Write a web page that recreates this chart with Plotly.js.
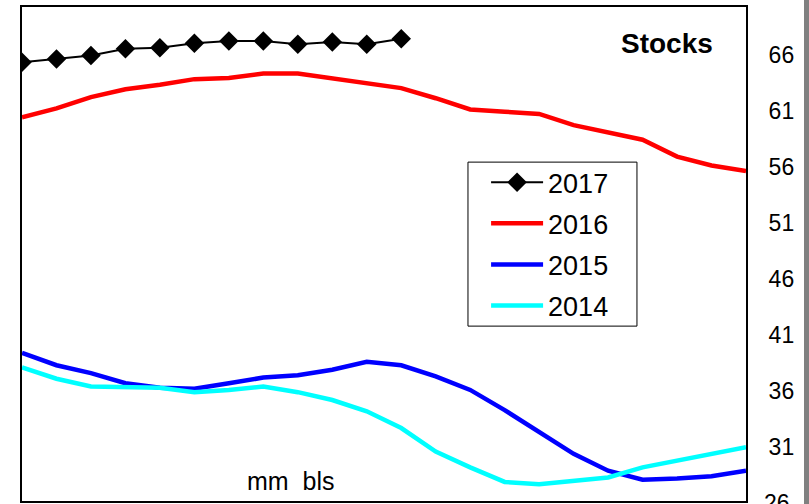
<!DOCTYPE html>
<html><head><meta charset="utf-8">
<script src="https://cdn.plot.ly/plotly-3.0.1.min.js"></script>
<style>html,body{margin:0;padding:0;background:#fff;overflow:hidden}
#bar{position:absolute;left:804px;top:0;width:5px;height:504px;background:#808080}</style>
</head><body>
<div id="chart" style="width:809px;height:504px"></div>
<div id="bar"></div>
<script>
const weeks = [1,2,3,4,5,6,7,8,9,10,11,12,13,14,15,16,17,18,19,20,21,22];
const s2017 = [65.3,65.6,65.9,66.5,66.6,67.0,67.2,67.2,66.9,67.1,66.9,67.4];
const s2016 = [60.4,61.2,62.2,62.9,63.3,63.8,63.9,64.3,64.3,63.9,63.4,63.0,62.1,61.1,60.9,60.7,59.7,59.1,58.4,56.9,56.1,55.6];
const s2015 = [39.4,38.3,37.6,36.7,36.3,36.2,36.7,37.2,37.4,37.9,38.6,38.3,37.3,36.1,34.3,32.3,30.4,28.9,28.1,28.2,28.4,28.9];
const s2014 = [38.1,37.1,36.4,36.4,36.3,35.9,36.1,36.4,35.9,35.2,34.2,32.7,30.6,29.2,27.9,27.7,28.0,28.3,29.2,29.8,30.4,31.0];
const yTicks = [26,31,36,41,46,51,56,61,66];

const FONT = 'Arial, "Liberation Sans", sans-serif';
const traces = [
  {x: weeks.slice(0, s2017.length), y: s2017, name: '2017', legendgroup: 'a', mode: 'lines+markers',
   line: {color: '#000000', width: 2}, marker: {symbol: 'diamond', size: 15, color: '#000000'}},
  {x: weeks, y: s2016, name: '2016', legendgroup: 'b', mode: 'lines', line: {color: '#ff0000', width: 4.5}},
  {x: weeks, y: s2015, name: '2015', legendgroup: 'c', mode: 'lines', line: {color: '#0000ff', width: 4.5}},
  {x: weeks, y: s2014, name: '2014', legendgroup: 'd', mode: 'lines', line: {color: '#00ffff', width: 4.5}}
];

const yMin = 26.2, yMax = 70.23;
const layout = {
  width: 809, height: 504,
  margin: {l: 22, r: 63, t: 7, b: 3},
  paper_bgcolor: '#ffffff', plot_bgcolor: '#ffffff',
  font: {family: FONT, color: '#000'},
  showlegend: true,
  legend: {x: 0.641, y: 0.694, xanchor: 'left', yanchor: 'top',
    borderwidth: 0, bgcolor: 'rgba(0,0,0,0)',
    font: {size: 27, family: FONT}, tracegroupgap: 3, itemwidth: 52},
  xaxis: {range: [1, 22], showgrid: false, zeroline: false, showticklabels: false,
    ticks: '', showline: true, mirror: true, linecolor: '#000', linewidth: 2},
  yaxis: {range: [yMin, yMax], side: 'right', showgrid: false, zeroline: false,
    tickvals: yTicks, ticktext: yTicks.map(String), ticks: '',
    tickfont: {size: 23}, showline: true, mirror: true, linecolor: '#000', linewidth: 2,
    ticklabelstandoff: 16},
  shapes: [
    {type: 'rect', xref: 'paper', yref: 'paper', x0: 0.616, x1: 0.8494, y0: 0.354, y1: 0.686,
     line: {color: '#000', width: 1}, fillcolor: '#fff', layer: 'below'}
  ],
  annotations: [
    {text: '<b>Stocks</b>', xref: 'paper', yref: 'paper', x: 0.891, y: 0.927,
     xanchor: 'center', yanchor: 'middle', showarrow: false, font: {size: 28}},
    {text: 'mm  bls', xref: 'paper', yref: 'paper', x: 0.3715, y: 0.04,
     xanchor: 'center', yanchor: 'middle', showarrow: false, font: {size: 25}},
    {text: String(yTicks[0]), xref: 'paper', yref: 'paper', x: 1, xshift: 16, y: (26 - yMin) / (yMax - yMin),
     xanchor: 'left', yanchor: 'middle', showarrow: false, font: {size: 23}}
  ]
};
Plotly.newPlot('chart', traces, layout, {displayModeBar: false, staticPlot: true});
</script>
</body></html>
